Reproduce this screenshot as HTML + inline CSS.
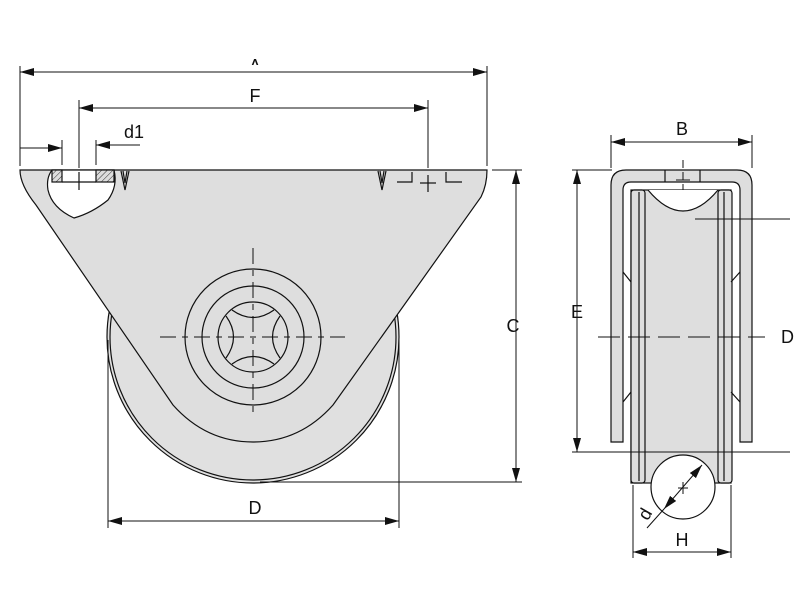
<!DOCTYPE html>
<html><head><meta charset="utf-8"><style>
html,body{margin:0;padding:0;background:#fff;width:800px;height:600px;overflow:hidden}
svg{display:block}
text{font-family:"Liberation Sans",sans-serif;font-size:18px;fill:#111}
</style></head><body>
<svg width="800" height="600" viewBox="0 0 800 600" xmlns="http://www.w3.org/2000/svg">
<defs>
<marker id="ar" viewBox="0 0 14 8" refX="14" refY="4" markerWidth="14" markerHeight="8" orient="auto-start-reverse" markerUnits="userSpaceOnUse"><path d="M0,0 L14,4 L0,8 z" fill="#111"/></marker>
<clipPath id="ca"><rect x="0" y="50" width="800" height="15"/></clipPath>
<pattern id="hatch" width="4" height="4" patternUnits="userSpaceOnUse" patternTransform="rotate(45)"><rect width="4" height="4" fill="#ddd"/><line x1="0" y1="0" x2="0" y2="4" stroke="#333" stroke-width="1"/></pattern>
</defs>
<g stroke="#111" stroke-width="1.2" fill="none">
<circle cx="253" cy="337" r="146" fill="#e0e0e0"/>
<circle cx="253" cy="337" r="143"/>
<path d="M20,170 L487,170 Q487,185 481,197 L333,405 Q300,442 253,442 Q206,442 173,405 L36,205 Q20,185 20,170 Z" fill="#dedede"/>
<path d="M52,170 Q46,178 48,190 Q52,208 74,218 Q92,213 108,200 Q118,186 114,170 Z" fill="#fff"/>
<rect x="52" y="170" width="10" height="12" fill="url(#hatch)"/>
<rect x="96" y="170" width="18" height="12" fill="url(#hatch)"/>
<line x1="62" y1="182" x2="96" y2="182"/>
<line x1="79" y1="172" x2="79" y2="190"/>
<path d="M121,171 L125,190 L129,171 M123,171 L125,183 L127,171"/>
<path d="M378,171 L382,190 L386,171 M380,171 L382,183 L384,171"/>
<path d="M397,182 L412,182 L412,172 M446,172 L446,182 L462,182"/>
<line x1="420" y1="183" x2="436" y2="183"/><line x1="428" y1="175" x2="428" y2="192"/>
<circle cx="253" cy="337" r="68"/>
<circle cx="253" cy="337" r="51"/>
<circle cx="253" cy="337" r="35"/>
<path d="M232,310 Q253,325 274,310 M232,364 Q253,349 274,364 M226,316 Q241,337 226,358 M280,316 Q265,337 280,358"/>
<g stroke-width="1" stroke-dasharray="16,6,6,6">
<line x1="160" y1="337" x2="345" y2="337"/>
<line x1="253" y1="248" x2="253" y2="415"/>
</g>
<g stroke-width="1">
<line x1="20" y1="66" x2="20" y2="166"/><line x1="487" y1="66" x2="487" y2="166"/>
<line x1="20" y1="72" x2="487" y2="72" marker-start="url(#ar)" marker-end="url(#ar)"/>
<line x1="79" y1="100" x2="79" y2="168"/><line x1="428" y1="100" x2="428" y2="168"/>
<line x1="79" y1="108" x2="428" y2="108" marker-start="url(#ar)" marker-end="url(#ar)"/>
<line x1="62" y1="140" x2="62" y2="165"/><line x1="96" y1="140" x2="96" y2="165"/>
<line x1="20" y1="148" x2="62" y2="148" marker-end="url(#ar)"/>
<line x1="140" y1="145" x2="96" y2="145" marker-end="url(#ar)"/>
<line x1="492" y1="170" x2="522" y2="170"/><line x1="260" y1="482" x2="522" y2="482"/>
<line x1="516" y1="170" x2="516" y2="482" marker-start="url(#ar)" marker-end="url(#ar)"/>
<line x1="108" y1="340" x2="108" y2="528"/><line x1="399" y1="340" x2="399" y2="528"/>
<line x1="108" y1="521" x2="399" y2="521" marker-start="url(#ar)" marker-end="url(#ar)"/>
</g>
<rect x="631" y="190" width="100" height="293" fill="#dedede"/>
<path d="M648,190 Q683,232 718,190" fill="#fff"/>
<path d="M611,442 L611,185 Q611,170 626,170 L737,170 Q752,170 752,185 L752,442 L740,442 L740,190 Q740,182 732,182 L631,182 Q623,182 623,190 L623,442 Z" fill="#dedede"/>
<line x1="665" y1="170" x2="665" y2="182"/><line x1="700" y1="170" x2="700" y2="182"/>
<rect x="631" y="190" width="14" height="293" rx="3" fill="#dedede"/>
<rect x="718" y="190" width="14" height="293" rx="3" fill="#dedede"/>
<line x1="639" y1="192" x2="639" y2="481"/><line x1="724" y1="192" x2="724" y2="481"/>
<path d="M623,272 L631,282 M623,402 L631,392 M740,272 L731,282 M740,402 L731,392"/>
<circle cx="683" cy="487" r="32" fill="#fff"/>
<g stroke-width="1">
<line x1="683" y1="160" x2="683" y2="190" stroke-dasharray="8,4"/>
<line x1="676" y1="180" x2="690" y2="180"/>
<line x1="598" y1="337" x2="765" y2="337" stroke-dasharray="22,8"/>
<line x1="611" y1="135" x2="611" y2="168"/><line x1="752" y1="135" x2="752" y2="168"/>
<line x1="611" y1="142" x2="752" y2="142" marker-start="url(#ar)" marker-end="url(#ar)"/>
<line x1="572" y1="170" x2="612" y2="170"/><line x1="572" y1="452" x2="790" y2="452"/>
<line x1="577" y1="170" x2="577" y2="452" marker-start="url(#ar)" marker-end="url(#ar)"/>
<line x1="695" y1="219" x2="790" y2="219"/>
<line x1="633" y1="485" x2="633" y2="558"/><line x1="731" y1="485" x2="731" y2="558"/>
<line x1="633" y1="552" x2="731" y2="552" marker-start="url(#ar)" marker-end="url(#ar)"/>
<line x1="702" y1="465" x2="664" y2="509" marker-start="url(#ar)" marker-end="url(#ar)"/>
<line x1="664" y1="509" x2="647" y2="528"/>
<line x1="678" y1="488" x2="688" y2="488"/><line x1="683" y1="482" x2="683" y2="494"/>
</g>
</g>
<text x="255" y="72" text-anchor="middle" clip-path="url(#ca)">A</text>
<text x="255" y="102" text-anchor="middle">F</text>
<text x="134" y="138" text-anchor="middle">d1</text>
<text x="513" y="332" text-anchor="middle">C</text>
<text x="255" y="514" text-anchor="middle">D</text>
<text x="682" y="135" text-anchor="middle">B</text>
<text x="577" y="318" text-anchor="middle">E</text>
<text x="781" y="343">D</text>
<text x="682" y="546" text-anchor="middle">H</text>
<text x="645" y="520" transform="rotate(-60 645 514)" text-anchor="middle">d</text>
</svg>
</body></html>
